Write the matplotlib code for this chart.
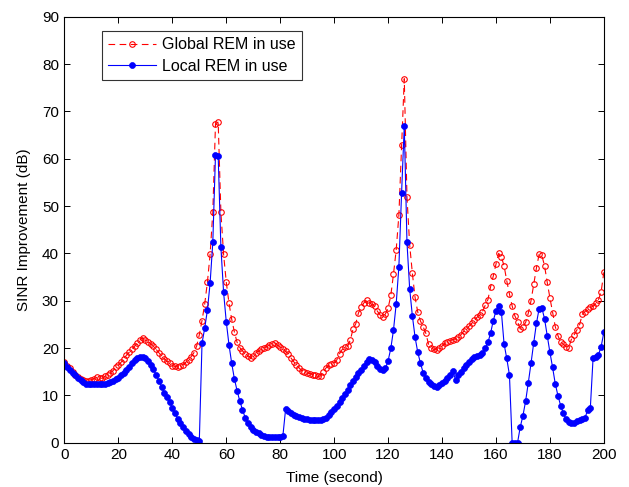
import matplotlib
matplotlib.use("Agg")

import numpy as np
import matplotlib.pyplot as plt

plt.rcParams["font.family"] = ["Liberation Sans", "DejaVu Sans"]

# time axis, one sample per second
time_s = np.arange(0, 201)

# SINR improvement with the global REM (dB)
global_rem = [
    17.0, 16.3, 15.7, 15.0, 14.3, 13.9, 13.5, 13.2, 13.0, 13.1,
    13.3, 13.5, 13.8, 13.7, 13.6, 14.0, 14.4, 14.8, 15.2, 15.9,
    16.4, 17.0, 17.7, 18.5, 19.1, 19.7, 20.4, 21.0, 21.7, 22.2,
    21.6, 21.3, 20.9, 20.4, 19.7, 19.0, 18.3, 17.7, 17.2, 16.8,
    16.3, 16.1, 16.0, 16.1, 16.5, 17.0, 17.5, 18.2, 19.0, 20.4,
    22.8, 25.8, 29.3, 33.9, 39.8, 48.7, 67.4, 67.7, 48.7, 39.8,
    33.9, 29.5, 26.1, 23.4, 21.2, 20.1, 19.4, 18.8, 18.4, 17.9,
    18.3, 19.0, 19.4, 19.7, 20.0, 20.3, 20.6, 20.8, 21.1, 20.6,
    20.2, 19.8, 19.3, 18.8, 17.9, 17.1, 16.5, 15.8, 15.2, 14.9,
    14.7, 14.6, 14.4, 14.3, 14.0, 14.1, 15.0, 15.8, 16.4, 16.7,
    16.9, 17.5, 18.8, 19.7, 20.2, 20.4, 21.7, 24.0, 25.1, 27.4,
    28.6, 29.5, 30.2, 29.6, 29.2, 28.8, 27.8, 27.0, 26.6, 27.2,
    28.4, 31.1, 35.6, 40.7, 48.1, 62.8, 76.9, 51.9, 41.8, 35.8,
    30.7, 27.6, 25.7, 24.5, 23.1, 20.8, 20.0, 19.7, 19.6, 20.0,
    20.4, 21.0, 21.2, 21.5, 21.8, 21.9, 22.3, 22.8, 23.5, 24.0,
    24.6, 25.2, 25.9, 26.5, 27.0, 27.7, 29.0, 30.2, 32.9, 35.2,
    37.7, 40.0, 39.2, 37.4, 34.2, 31.4, 28.9, 26.8, 25.6, 24.0,
    24.5, 25.4, 27.4, 30.0, 33.5, 36.9, 39.8, 39.6, 37.4, 33.9,
    30.6, 27.5, 24.5, 22.6, 21.2, 20.8, 20.3, 20.1, 21.9, 22.8,
    23.8, 24.9, 27.1, 27.7, 28.2, 28.6, 28.8, 29.5, 30.2, 31.9,
    36.0,
]

# SINR improvement with the local REM (dB)
local_rem = [
    16.8, 16.0, 15.4, 14.8, 14.3, 13.7, 13.2, 12.8, 12.5, 12.4,
    12.3, 12.3, 12.3, 12.3, 12.3, 12.4, 12.6, 12.8, 13.1, 13.4,
    13.7, 14.2, 14.8, 15.4, 16.0, 16.8, 17.4, 17.9, 18.2, 18.1,
    17.8, 17.2, 16.4, 15.5, 14.3, 13.1, 11.8, 10.6, 9.6, 8.6,
    7.3, 6.2, 5.1, 4.1, 3.3, 2.5, 1.8, 1.2, 0.8, 0.6,
    0.4, 21.0, 24.2, 28.0, 33.7, 42.3, 60.8, 60.5, 41.3, 31.8,
    25.5, 20.7, 16.8, 13.5, 11.0, 8.8, 7.0, 5.3, 4.1, 3.3,
    2.7, 2.3, 2.0, 1.7, 1.5, 1.3, 1.2, 1.1, 1.1, 1.2,
    1.3, 1.5, 7.1, 6.6, 6.2, 5.9, 5.7, 5.5, 5.3, 5.1,
    4.9, 4.8, 4.7, 4.7, 4.7, 4.7, 4.9, 5.3, 5.8, 6.4,
    7.1, 7.8, 8.6, 9.4, 10.3, 11.2, 12.2, 13.1, 13.9, 14.7,
    15.4, 16.2, 17.0, 17.6, 17.5, 17.1, 16.3, 15.6, 15.4, 15.7,
    17.3, 19.9, 23.8, 29.3, 37.2, 52.7, 67.0, 42.3, 32.5, 26.8,
    22.3, 19.1, 16.8, 14.8, 13.7, 12.9, 12.3, 11.9, 11.8, 12.2,
    12.6, 13.1, 13.6, 14.3, 15.2, 13.3, 14.2, 15.0, 15.7, 16.5,
    17.1, 17.6, 18.1, 18.4, 18.6, 18.9, 20.0, 21.2, 23.1, 25.8,
    27.8, 28.9, 27.7, 20.9, 17.8, 14.3, 0.0, 0.0, 0.0, 3.3,
    5.7, 8.8, 12.7, 16.8, 21.1, 25.2, 28.3, 28.5, 26.2, 22.6,
    19.1, 15.9, 12.4, 9.9, 7.8, 6.2, 4.9, 4.4, 4.1, 4.2,
    4.5, 4.7, 5.0, 5.2, 6.9, 7.4, 17.8, 18.2, 18.6, 20.3,
    23.3,
]

fig = plt.figure(figsize=(6.29, 4.87), dpi=100)
ax = fig.add_axes([0.1025, 0.091, 0.8575, 0.8747])

ax.plot(time_s, global_rem, "--o", color="#ff0000", linewidth=0.8,
        markersize=4.0, markerfacecolor="none", markeredgewidth=0.8,
        dashes=(6, 4), label="Global REM in use")
ax.plot(time_s, local_rem, "-o", color="#0000ff", linewidth=0.8,
        markersize=4.3, markerfacecolor="#0000ff", markeredgewidth=0.5,
        label="Local REM in use")

ax.set_xlim(0, 200)
ax.set_ylim(0, 90)
ax.set_xticks(np.arange(0, 201, 20))
ax.set_yticks(np.arange(0, 91, 10))
ax.tick_params(direction="in", top=True, right=True, labelsize=11,
               length=4, width=0.7, pad=4)
for side in ax.spines.values():
    side.set_linewidth(0.8)

ax.set_xlabel("Time (second)", fontsize=11, labelpad=6)
ax.set_ylabel("SINR Improvement (dB)", fontsize=11, labelpad=8)

leg = ax.legend(loc="upper left", bbox_to_anchor=(0.069, 0.967),
                fontsize=11.5, fancybox=False, edgecolor="black",
                handlelength=3.0, borderpad=0.4, labelspacing=0.4,
                handletextpad=0.35, borderaxespad=0)
leg.get_frame().set_linewidth(0.8)

fig.savefig("out.png", dpi=100)
plt.close(fig)
